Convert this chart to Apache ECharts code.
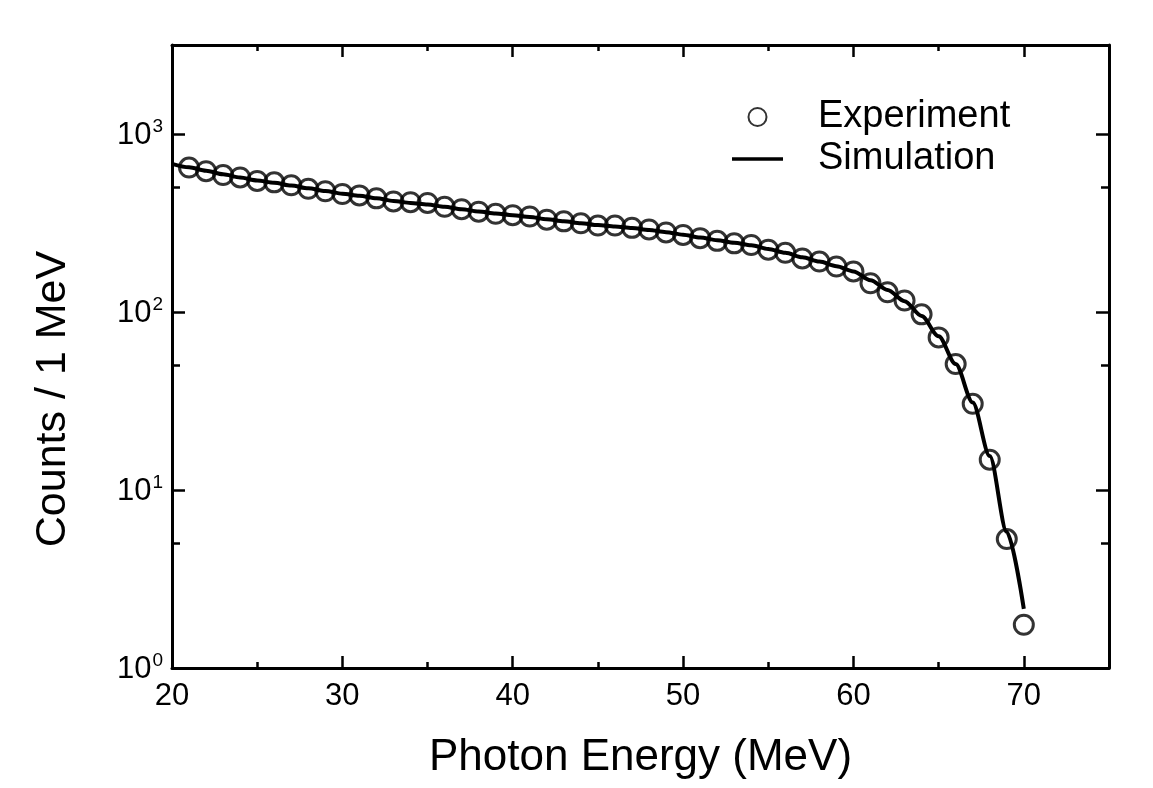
<!DOCTYPE html>
<html>
<head>
<meta charset="utf-8">
<script src="https://cdn.jsdelivr.net/npm/echarts@6/dist/echarts.min.js"></script>
<style>
html,body{margin:0;padding:0;background:#fff;}
#chart{width:1153px;height:788px;}
</style>
</head>
<body>
<div id="chart"></div>
<script>
// ---- data ----
const expEnergy = [21,22,23,24,25,26,27,28,29,30,31,32,33,34,35,36,37,38,39,40,41,42,43,44,45,46,47,48,49,50,51,52,53,54,55,56,57,58,59,60,61,62,63,64,65,66,67,68,69,70];
const expCounts = [648,618,588,570,545,535,515,492,477,460,452,435,418,414,410,390,378,366,356,350,344,330,323,315,306,306,297,291,280,271,260,251,243,238,224,215,200,192,180,169,145,129,116,97,72,51,30.5,14.8,5.3,1.75];
const simEnergy = [20,21,22,23,24,25,26,27,28,29,30,31,32,33,34,35,36,37,38,39,40,41,42,43,44,45,46,47,48,49,50,51,52,53,54,55,56,57,58,59,60,61,62,63,64,65,66,67,68,69,70];
const simCounts = [680,650,622,594,570,548,532,513,495,478,462,450,435,421,410,402,390,378,367,358,350,342,332,323,315,308,302,296,289,281,272,262,253,245,237,226,215,203,192,181,169,151,133,115,95,73,51,31,15.5,5.8,2.15];
const xMajorTicks = [20,30,40,50,60,70];
const xMinorTicks = [25,35,45,55,65];
const yMajorTicks = [1,10,100,1000];
const yMinorTicks = [5,50,500];
const xTitle = 'Photon Energy (MeV)';
const yTitle = 'Counts / 1 MeV';

const FONT = '"Liberation Sans", Arial, Helvetica, sans-serif';
const INK = '#000';

const expData = expEnergy.map((x,i)=>[x, expCounts[i]]);
const simData = simEnergy.map((x,i)=>[x, simCounts[i]]);

function xAxisDef(pos, ticks, len, showLine, showLabel){
  return {
    type:'value', min:20, max:75, position:pos, gridIndex:0,
    axisLine:{show:showLine, lineStyle:{color:INK, width:3}},
    axisTick:{show:true, inside:true, length:len, customValues:ticks, lineStyle:{color:INK, width:2.5}},
    axisLabel:{show:showLabel, customValues:xMajorTicks, color:INK, fontSize:31, fontFamily:FONT, margin:13},
    splitLine:{show:false}
  };
}
function yAxisDef(pos, ticks, len, showLine, showLabel){
  return {
    type:'log', logBase:10, min:1, max:3162.28, position:pos, gridIndex:0,
    axisLine:{show:showLine, lineStyle:{color:INK, width:3}},
    axisTick:{show:true, inside:true, length:len, customValues:ticks, lineStyle:{color:INK, width:2.5}},
    axisLabel:{show:showLabel, customValues:yMajorTicks, margin:9,
      formatter:function(v){ const e=Math.round(Math.log10(v)); return '{b|10}{s|'+e+'}'; },
      rich:{
        b:{fontSize:31, fontFamily:FONT, color:INK, verticalAlign:'bottom'},
        s:{fontSize:19, fontFamily:FONT, color:INK, verticalAlign:'bottom', padding:[0,0,15,1]}
      }},
    splitLine:{show:false}, minorTick:{show:false}
  };
}

const xBottom = xAxisDef('bottom', xMajorTicks, 12, true, true);
xBottom.name = xTitle;
xBottom.nameLocation = 'middle';
xBottom.nameGap = 68;
xBottom.nameTextStyle = {fontSize:44, fontFamily:FONT, color:INK};

const chart = echarts.init(document.getElementById('chart'), null, {renderer:'canvas'});
chart.setOption({
  backgroundColor:'#fff',
  animation:false,
  grid:{left:172, right:44, top:45, bottom:120, containLabel:false},
  xAxis:[
    xBottom,
    xAxisDef('bottom', xMinorTicks, 6, false, false),
    xAxisDef('top', xMajorTicks, 12, true, false),
    xAxisDef('top', xMinorTicks, 6, false, false)
  ],
  yAxis:[
    yAxisDef('left', yMajorTicks, 13, true, true),
    yAxisDef('left', yMinorTicks, 8, false, false),
    yAxisDef('right', yMajorTicks, 13, true, false),
    yAxisDef('right', yMinorTicks, 8, false, false)
  ],
  graphic:[{
    type:'text', x:53, y:399, rotation:Math.PI/2,
    style:{text:yTitle, fontSize:43, fontFamily:FONT, fill:INK, align:'center', verticalAlign:'middle'}
  }],
  legend:{
    left:727, top:93, orient:'vertical',
    itemWidth:51, itemHeight:18, itemGap:4,
    data:[
      {name:'Experiment'},
      {name:'Simulation', icon:'path://M0,0 L51,0 L51,3.6 L0,3.6 Z'}
    ],
    textStyle:{fontSize:38, fontFamily:FONT, color:INK, lineHeight:36, padding:[0,0,0,30]}
  },
  series:[
    {
      name:'Simulation', type:'line', data:simData, xAxisIndex:0, yAxisIndex:0,
      symbol:'none', smooth:0.3, smoothMonotone:'x',
      lineStyle:{color:INK, width:4}, itemStyle:{color:INK}, z:2
    },
    {
      name:'Experiment', type:'scatter', data:expData, xAxisIndex:0, yAxisIndex:0,
      symbol:'circle', symbolSize:19,
      itemStyle:{color:'rgba(255,255,255,0)', borderColor:INK, borderWidth:3}, z:3
    }
  ]
});
</script>
</body>
</html>
